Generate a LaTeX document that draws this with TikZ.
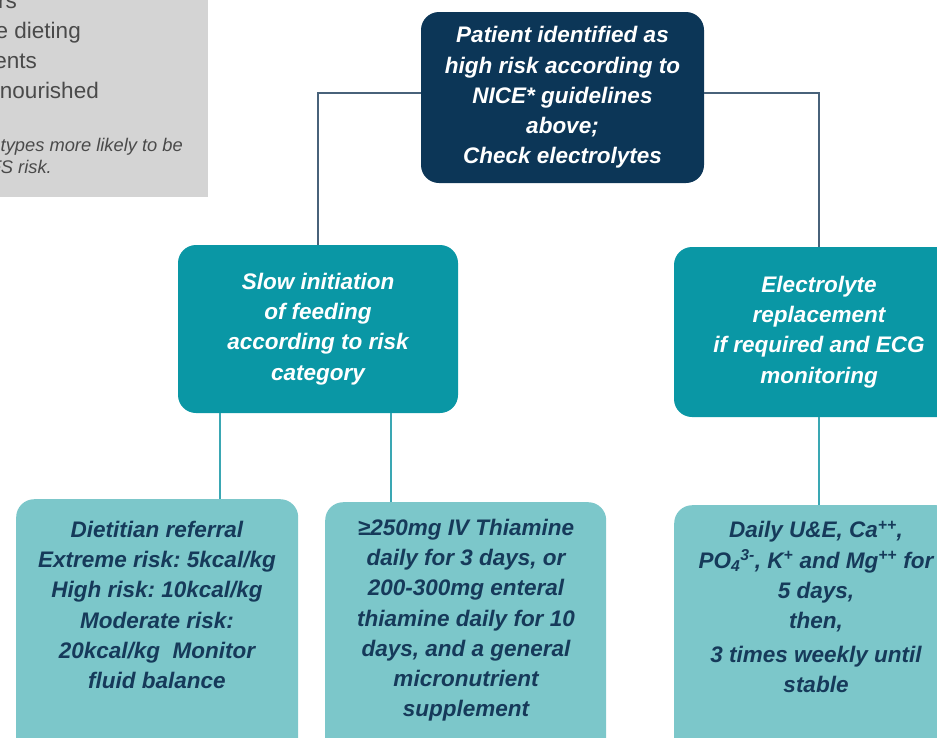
\documentclass[tikz,border=0pt]{standalone}
\usepackage{fontspec}
\setmainfont{Liberation Sans}
\definecolor{navy}{HTML}{0C3657}
\definecolor{tealmid}{HTML}{0A97A5}
\definecolor{teallight}{HTML}{7CC7CA}
\definecolor{txtnavy}{HTML}{163A5A}
\definecolor{connA}{HTML}{48627A}
\definecolor{connB}{HTML}{3AA7B3}
\definecolor{greyfill}{HTML}{D4D4D4}
\definecolor{greytxt}{HTML}{4A4A4A}
\begin{document}
\frenchspacing
\begin{tikzpicture}[x=1pt,y=-1pt,
  boxfont/.style={font=\fontsize{22.5}{30.2}\selectfont\bfseries\itshape},
  darkbox/.style={fill=navy, rounded corners=18pt, inner sep=0pt, align=center, text=white, boxfont},
  midbox/.style={fill=tealmid, rounded corners=18pt, inner sep=0pt, align=center, text=white, boxfont},
  lightbox/.style={fill=teallight, rounded corners=18pt, inner sep=0pt},
  lighttxt/.style={inner sep=0pt, align=center, text=txtnavy, boxfont},
  connA/.style={draw=connA, line width=2pt},
  connB/.style={draw=connB, line width=2pt},
  greyline/.style={inner sep=0pt, text=greytxt, font=\fontsize{22.5}{30}\selectfont},
  greynote/.style={inner sep=0pt, text=greytxt, font=\fontsize{18.3}{22}\selectfont\itshape}
]
\useasboundingbox (0,0) rectangle (937,737);
\clip (0,0) rectangle (937,737);

% grey legend box (cut off by the frame)
\node[fill=greyfill, minimum width=260pt, minimum height=240pt, inner sep=0pt, anchor=south east] (grey) at (208,197) {};
\node[greyline, anchor=base east] (g1) at (17,8) {rs};
\node[greyline, anchor=base east] (g2) at (81,38) {e dieting};
\node[greyline, anchor=base east] (g3) at (37,68) {ents};
\node[greyline, anchor=base east] (g4) at (99,98) {nourished};
\node[greynote, anchor=base east] (g5) at (183,151) {types more likely to be};
\node[greynote, anchor=base east] (g6) at (52,173) {FS risk.};

% main boxes
\node[darkbox, minimum width=283pt, minimum height=171pt] (top) at (562.5,97.5)
  {Patient identified as\\high risk according to\\NICE* guidelines\\above;\\Check electrolytes};
\node[midbox, minimum width=280pt, minimum height=168pt] (slow) at (318,329)
  {Slow initiation\\of feeding\\according to risk\\category};
\node[midbox, minimum width=290pt, minimum height=170pt] (elec) at (819,332)
  {Electrolyte\\replacement\\if required and ECG\\monitoring};

\node[lightbox, minimum width=282pt, minimum height=300pt, anchor=north west] (diet) at (16,499) {};
\node[lightbox, minimum width=281pt, minimum height=300pt, anchor=north west] (thia) at (325,502) {};
\node[lightbox, minimum width=280pt, minimum height=300pt, anchor=north west] (ue) at (674,505) {};

\node[lighttxt, anchor=north] (dtxt) at (157,521)
  {Dietitian referral\\Extreme risk: 5kcal/kg\\High risk: 10kcal/kg\\Moderate risk:\\20kcal/kg\ \ Monitor\\fluid balance};
\node[lighttxt, anchor=north] (ttxt) at (466,519)
  {≥250mg IV Thiamine\\daily for 3 days, or\\200-300mg enteral\\thiamine daily for 10\\days, and a general\\micronutrient\\supplement};
\node[lighttxt, anchor=north] (utxt) at (816,521)
  {Daily U\&E, Ca\textsuperscript{++},\\PO\textsubscript{4}\textsuperscript{3-}, K\textsuperscript{+} and Mg\textsuperscript{++} for\\5 days,\\then,\\[4pt]3 times weekly until\\stable};

% connectors
\coordinate (c1) at (220,0);
\coordinate (c2) at (391,0);
\draw[connA] ([yshift=5pt]top.west) -| (slow.north);
\draw[connA] ([yshift=5pt]top.east) -| (elec.north);
\draw[connB] (slow.south -| c1) -- (diet.north -| c1);
\draw[connB] (slow.south -| c2) -- (thia.north -| c2);
\draw[connB] (elec.south) -- (ue.north -| elec.south);
\end{tikzpicture}
\end{document}
